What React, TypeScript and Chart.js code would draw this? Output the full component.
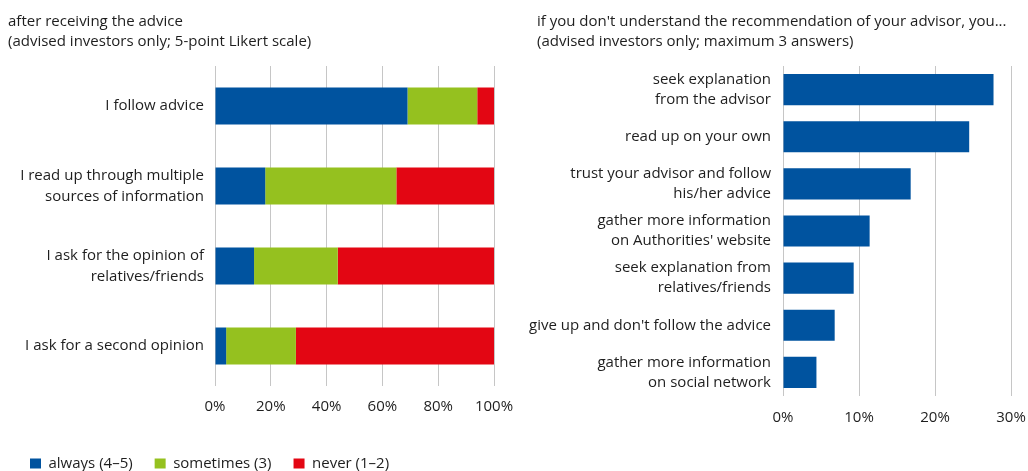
import React, { useEffect, useRef } from 'react';
import { Chart, registerables } from 'chart.js';

Chart.register(...registerables);

const FONT = "'Open Sans'";
const FS = 15;
const TEXT = '#1e1e1e';
const GRID = '#c6c6c6';
const BLUE = '#00539f';
const GREEN = '#95c11f';
const RED = '#e30613';

// Left chart data
const leftTitle = ['after receiving the advice', '(advised investors only; 5-point Likert scale)'];
const leftCategories = [
  ['I follow advice'],
  ['I read up through multiple', 'sources of information'],
  ['I ask for the opinion of', 'relatives/friends'],
  ['I ask for a second opinion'],
];
const seriesNames = ['always (4–5)', 'sometimes (3)', 'never (1–2)'];
const alwaysValues = [69, 18, 14, 4];
const sometimesValues = [25, 47, 30, 25];
const neverValues = [6, 35, 56, 71];
const leftTickMax = 100;
const leftTickStep = 20;

// Right chart data
const rightTitle = [
  "if you don't understand the recommendation of your advisor, you...",
  '(advised investors only; maximum 3 answers)',
];
const rightCategories = [
  ['seek explanation', 'from the advisor'],
  ['read up on your own'],
  ['trust your advisor and follow', 'his/her advice'],
  ['gather more information', "on Authorities' website"],
  ['seek explanation from', 'relatives/friends'],
  ["give up and don't follow the advice"],
  ['gather more information', 'on social network'],
];
const rightValues = [27.7, 24.5, 16.8, 11.4, 9.3, 6.8, 4.4];
const rightTickMax = 30;
const rightTickStep = 10;

const noPad = (s: any) => {
  s.paddingLeft = 0;
  s.paddingRight = 0;
  s.paddingTop = 0;
  s.paddingBottom = 0;
};

// let long category labels extend past the axis box instead of being clipped
const noLabelClip = (s: any) => {
  s._computeLabelArea = () => undefined;
};

export default function App() {
  const leftRef = useRef<HTMLCanvasElement | null>(null);
  const rightRef = useRef<HTMLCanvasElement | null>(null);

  useEffect(() => {
    Chart.defaults.font.family = FONT;
    Chart.defaults.font.size = FS;
    Chart.defaults.color = TEXT;

    const left = new Chart(leftRef.current as HTMLCanvasElement, {
      type: 'bar',
      data: {
        labels: leftCategories,
        datasets: [
          { label: seriesNames[0], data: alwaysValues, backgroundColor: BLUE, borderWidth: 0 },
          { label: seriesNames[1], data: sometimesValues, backgroundColor: GREEN, borderWidth: 0 },
          { label: seriesNames[2], data: neverValues, backgroundColor: RED, borderWidth: 0 },
        ],
      },
      options: {
        indexAxis: 'y',
        responsive: false,
        animation: false,
        devicePixelRatio: 1,
        layout: { padding: { left: 8, right: 26, top: 0, bottom: 0 } },
        datasets: { bar: { barPercentage: 0.4625, categoryPercentage: 1 } },
        plugins: {
          title: {
            display: true,
            text: leftTitle,
            align: 'start',
            color: TEXT,
            font: { family: FONT, size: FS, weight: 'normal', lineHeight: 20 / FS },
            padding: { top: 12, bottom: 14 },
          },
          legend: {
            display: true,
            position: 'bottom',
            align: 'start',
            labels: {
              boxWidth: 11,
              boxHeight: 10,
              padding: 22,
              color: TEXT,
              font: { family: FONT, size: FS },
            },
          },
          tooltip: { enabled: false },
        },
        scales: {
          x: {
            stacked: true,
            min: 0,
            max: leftTickMax,
            ticks: {
              stepSize: leftTickStep,
              padding: 12,
              color: TEXT,
              font: { family: FONT, size: FS },
              callback: (v: any) => v + '%',
            },
            grid: { color: GRID, lineWidth: 1, drawTicks: false },
            border: { display: false },
            afterFit: (s: any) => { s.height = 48; noPad(s); },
          },
          y: {
            stacked: true,
            ticks: {
              padding: 11,
              color: TEXT,
              font: { family: FONT, size: FS, lineHeight: 21.5 / FS },
            },
            grid: { display: false, drawTicks: false },
            border: { display: false },
            afterFit: (s: any) => { s.width = 207; noPad(s); noLabelClip(s); },
          },
        },
      },
    });

    const right = new Chart(rightRef.current as HTMLCanvasElement, {
      type: 'bar',
      data: {
        labels: rightCategories,
        datasets: [
          { label: 'share', data: rightValues, backgroundColor: BLUE, borderWidth: 0 },
        ],
      },
      options: {
        indexAxis: 'y',
        responsive: false,
        animation: false,
        devicePixelRatio: 1,
        layout: { padding: { left: 37, right: 17, top: 0, bottom: 0 } },
        datasets: { bar: { barPercentage: 0.66, categoryPercentage: 1 } },
        plugins: {
          title: {
            display: true,
            text: rightTitle,
            align: 'start',
            color: TEXT,
            font: { family: FONT, size: FS, weight: 'normal', lineHeight: 20 / FS },
            padding: { top: 12, bottom: 14 },
          },
          legend: { display: false },
          tooltip: { enabled: false },
        },
        scales: {
          x: {
            min: 0,
            max: rightTickMax,
            ticks: {
              stepSize: rightTickStep,
              padding: 13,
              color: TEXT,
              font: { family: FONT, size: FS },
              callback: (v: any) => v + '%',
            },
            grid: { color: GRID, lineWidth: 1, drawTicks: false },
            border: { display: false },
            afterFit: (s: any) => { s.height = 75; noPad(s); },
          },
          y: {
            ticks: {
              padding: 12,
              color: TEXT,
              font: { family: FONT, size: FS, lineHeight: 20 / FS },
            },
            grid: { display: false, drawTicks: false },
            border: { display: false },
            afterFit: (s: any) => { s.width = 246; noPad(s); noLabelClip(s); },
          },
        },
      },
    });

    return () => {
      left.destroy();
      right.destroy();
    };
  }, []);

  return (
    <div
      style={{
        position: 'fixed',
        left: 0,
        top: 0,
        width: 1028,
        height: 471,
        overflow: 'hidden',
        background: '#ffffff',
      }}
    >
      <canvas
        ref={leftRef}
        width={520}
        height={481}
        style={{ position: 'absolute', left: 0, top: 0, width: 520, height: 481 }}
      />
      <canvas
        ref={rightRef}
        width={528}
        height={471}
        style={{ position: 'absolute', left: 500, top: 0, width: 528, height: 471 }}
      />
    </div>
  );
}
